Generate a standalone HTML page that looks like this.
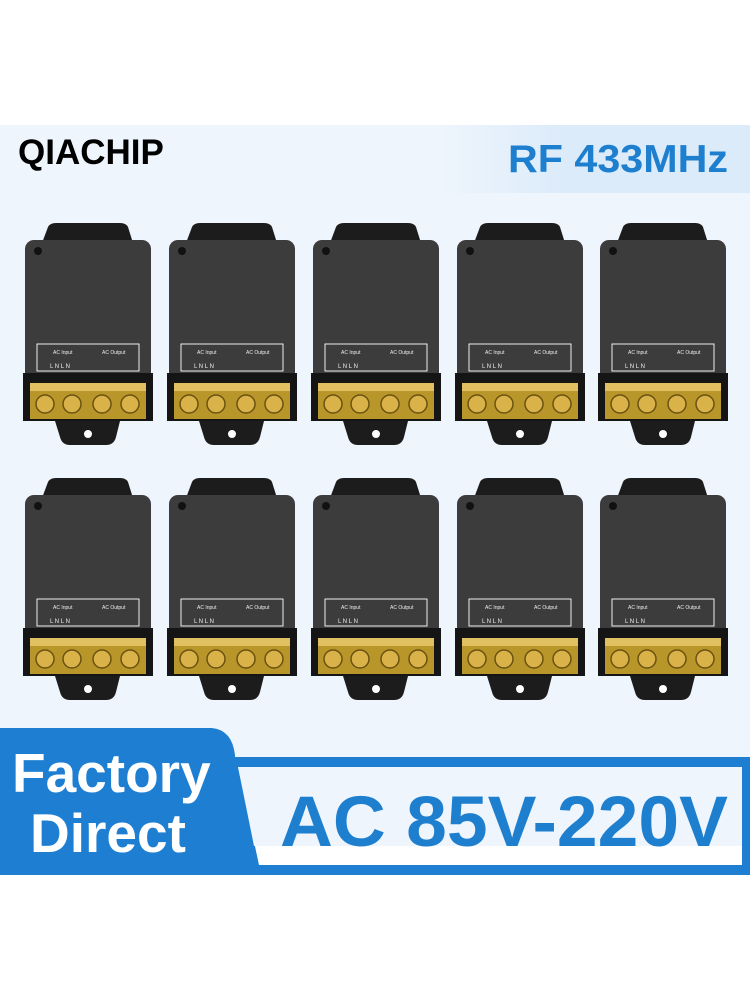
<!DOCTYPE html>
<html><head><meta charset="utf-8"><style>
body{margin:0;width:750px;height:1000px;background:#fff;position:relative;overflow:hidden;font-family:"Liberation Sans",Arial,sans-serif}
.abs{position:absolute}
</style></head><body>
<div class="abs" style="left:0;top:125px;width:750px;height:750px;background:#eef5fc"></div>
<div class="abs" style="left:440px;top:125px;width:310px;height:68px;background:linear-gradient(90deg,rgba(220,235,250,0),#dcebfa 40%)"></div>
<div class="abs" style="left:18px;top:133px;font-size:35px;font-weight:bold;color:#000">QIACHIP</div>
<svg class="abs" style="left:0;top:0" width="750" height="1000">
<text x="508" y="172" font-size="39" font-weight="bold" fill="#1e7fcf" font-family="Liberation Sans" textLength="220" lengthAdjust="spacingAndGlyphs">RF 433MHz</text>
<defs>
<g id="dev">
<path d="M22 22 L28 6 Q30 2 36 2 L100 2 Q106 2 108 6 L113 22 Z" fill="#1c1c1c"/>
<rect x="5" y="19" width="126" height="148" rx="9" fill="#3c3c3c"/>
<circle cx="18" cy="30" r="4" fill="#111"/>
<rect x="17" y="123" width="102" height="27" fill="none" stroke="#eee" stroke-width="1"/>
<text x="33" y="133" font-size="5" fill="#eee" font-family="Liberation Sans">AC Input</text>
<text x="82" y="133" font-size="5" fill="#eee" font-family="Liberation Sans">AC Output</text>
<text x="30" y="147" font-size="6" fill="#eee" font-family="Liberation Sans">L   N        L   N</text>
<rect x="3" y="152" width="130" height="48" fill="#151515"/>
<rect x="10" y="162" width="116" height="36" fill="#b8962a"/>
<rect x="10" y="162" width="116" height="8" fill="#e0c060"/>
<g fill="#d9b24a" stroke="#6b5210" stroke-width="1.5">
<circle cx="25" cy="183" r="9"/><circle cx="52" cy="183" r="9"/><circle cx="82" cy="183" r="9"/><circle cx="110" cy="183" r="9"/></g>
<path d="M35 200 L100 200 L96 216 Q94 224 86 224 L50 224 Q42 224 40 216 Z" fill="#1c1c1c"/>
<circle cx="68" cy="213" r="4" fill="#fff"/>
</g>
</defs>
<use href="#dev" x="20" y="221"/><use href="#dev" x="164" y="221"/><use href="#dev" x="308" y="221"/><use href="#dev" x="452" y="221"/><use href="#dev" x="595" y="221"/>
<use href="#dev" x="20" y="476"/><use href="#dev" x="164" y="476"/><use href="#dev" x="308" y="476"/><use href="#dev" x="452" y="476"/><use href="#dev" x="595" y="476"/>
<path d="M0 728 L212 728 Q232 730 235 755 L235 757 L750 757 L750 875 L0 875 Z" fill="#1e7fd2"/>
<path d="M238 767 L742 767 L742 865 L259 865 Z" fill="#fff"/>
<path d="M238 767 L742 767 L742 846 L254 846 Z" fill="#eef5fc"/>
<text x="12" y="792" font-size="55" font-weight="bold" fill="#fff" font-family="Liberation Sans">Factory</text>
<text x="30" y="852" font-size="55" font-weight="bold" fill="#fff" font-family="Liberation Sans">Direct</text>
<text x="280" y="846" font-size="71" font-weight="bold" fill="#1e7fcf" font-family="Liberation Sans" textLength="448" lengthAdjust="spacingAndGlyphs">AC 85V-220V</text>
</svg>
</body></html>
